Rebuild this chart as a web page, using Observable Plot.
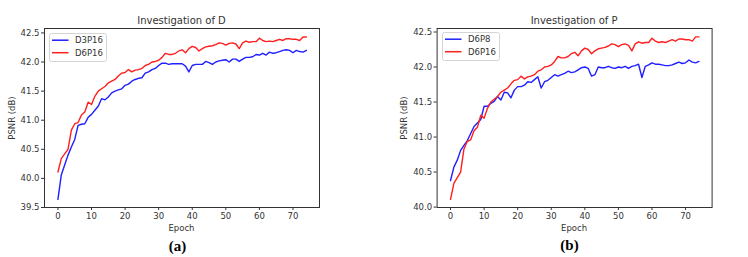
<!DOCTYPE html>
<html>
<head>
<meta charset="utf-8">
<script src="https://cdn.jsdelivr.net/npm/d3@7"></script>
<script src="https://cdn.jsdelivr.net/npm/@observablehq/plot@0.6"></script>
<style>
  html, body { margin: 0; padding: 0; background: #fff; }
  #root { position: relative; width: 748px; height: 257px; overflow: hidden; font-family: "DejaVu Sans", sans-serif; color: #333; }
  .abs { position: absolute; white-space: nowrap; }
  .title { font-size: 10px; transform: translate(-50%, -50%); }
  .xlabel { font-size: 8.5px; transform: translate(-50%, -50%); }
  .ylabel { font-size: 8.5px; transform: translate(-50%, -50%) rotate(-90deg); }
  .caption { font-family: "Liberation Serif", "Times New Roman", serif; font-weight: bold; font-size: 15px; color: #000; transform: translate(-50%, -50%); }
</style>
</head>
<body>
<div id="root"></div>
<script>
// ---- data ----
const epochs = [0,1,2,3,4,5,6,7,8,9,10,11,12,13,14,15,16,17,18,19,20,21,22,23,24,25,26,27,28,29,30,31,32,33,34,35,36,37,38,39,40,41,42,43,44,45,46,47,48,49,50,51,52,53,54,55,56,57,58,59,60,61,62,63,64,65,66,67,68,69,70,71,72,73,74];

const D3P16 = [39.64,40.06,40.23,40.40,40.54,40.67,40.91,40.93,40.94,41.05,41.10,41.17,41.24,41.37,41.35,41.40,41.47,41.50,41.52,41.54,41.60,41.62,41.67,41.70,41.72,41.73,41.81,41.83,41.87,41.89,41.94,41.98,41.98,41.96,41.97,41.97,41.97,41.97,41.93,41.83,41.94,41.96,41.96,41.96,42.01,41.99,41.96,42.00,42.02,42.03,42.04,42.00,42.05,42.05,42.01,42.05,42.08,42.08,42.09,42.13,42.12,42.15,42.12,42.17,42.15,42.16,42.18,42.20,42.21,42.20,42.16,42.20,42.18,42.17,42.20];

const D6P16 = [40.11,40.34,40.42,40.50,40.83,40.94,40.96,41.09,41.14,41.31,41.27,41.41,41.50,41.54,41.58,41.64,41.67,41.70,41.76,41.81,41.82,41.87,41.83,41.86,41.87,41.89,41.94,41.96,42.00,42.01,42.03,42.08,42.15,42.13,42.13,42.15,42.19,42.21,42.16,42.23,42.27,42.25,42.19,42.23,42.26,42.27,42.28,42.30,42.33,42.32,42.29,42.32,42.33,42.31,42.23,42.33,42.36,42.34,42.35,42.35,42.41,42.37,42.35,42.36,42.35,42.37,42.39,42.37,42.40,42.40,42.39,42.39,42.37,42.43,42.43];

const D6P8 = [40.38,40.57,40.67,40.81,40.88,40.95,41.05,41.15,41.20,41.25,41.44,41.44,41.48,41.51,41.58,41.53,41.64,41.63,41.56,41.67,41.72,41.72,41.74,41.79,41.78,41.82,41.86,41.70,41.79,41.81,41.85,41.89,41.87,41.89,41.91,41.94,41.92,41.93,41.96,41.99,42.00,41.98,41.87,41.89,42.00,41.99,41.99,42.01,41.99,41.98,42.00,41.99,42.01,41.98,42.01,42.02,42.04,41.85,42.01,42.03,42.06,42.04,42.04,42.03,42.02,42.02,42.03,42.05,42.07,42.05,42.06,42.10,42.07,42.06,42.08];

const xTicks = [0,10,20,30,40,50,60,70];
const yTicksA = [39.5,40.0,40.5,41.0,41.5,42.0,42.5];
const yTicksB = [40.0,40.5,41.0,41.5,42.0,42.5];
const titles = ["Investigation of D", "Investigation of P"];
const captions = ["(a)", "(b)"];
const seriesA = [{name: "D3P16", values: D3P16}, {name: "D6P16", values: D6P16}];
const seriesB = [{name: "D6P8", values: D6P8}, {name: "D6P16", values: D6P16}];
const colors = ["#1f1fff", "#ff1f1f"];

// ---- drawing ----
const root = document.getElementById("root");

function addDiv(cls, text, left, top) {
  const d = document.createElement("div");
  d.className = "abs " + cls;
  d.textContent = text;
  d.style.left = left + "px";
  d.style.top = top + "px";
  root.appendChild(d);
  return d;
}

function panel(series, yDomain, yTicks, mL, mR) {
  const data = series.flatMap(s => s.values.map((v, i) => ({epoch: epochs[i], psnr: v, name: s.name})));
  return Plot.plot({
    width: 374, height: 240,
    marginTop: 28, marginBottom: 33, marginLeft: mL, marginRight: mR,
    style: {fontFamily: "DejaVu Sans, sans-serif", fontSize: "8.5px", color: "#333", background: "transparent", overflow: "visible"},
    x: {domain: [-4, 77.9]},
    y: {domain: yDomain},
    color: {domain: series.map(s => s.name), range: colors},
    marks: [
      Plot.line(data, {x: "epoch", y: "psnr", z: "name", stroke: "name", strokeWidth: 1.4}),
      Plot.frame({stroke: "#333", strokeWidth: 1}),
      Plot.axisX(xTicks, {tickSize: 3, tickPadding: 2, label: null, tickFormat: d3.format("d"), stroke: "#333"}),
      Plot.axisY(yTicks, {tickSize: 3, tickPadding: 2, label: null, tickFormat: d3.format(".1f"), stroke: "#333"})
    ]
  });
}

function legend(series, x, y) {
  const ns = "http://www.w3.org/2000/svg";
  const svg = document.createElementNS(ns, "svg");
  svg.setAttribute("width", 58);
  svg.setAttribute("height", 29);
  svg.style.position = "absolute";
  svg.style.left = x + "px";
  svg.style.top = y + "px";
  const rect = document.createElementNS(ns, "rect");
  rect.setAttribute("x", 0.5); rect.setAttribute("y", 0.5);
  rect.setAttribute("width", 57); rect.setAttribute("height", 28);
  rect.setAttribute("rx", 2);
  rect.setAttribute("fill", "rgba(255,255,255,0.85)");
  rect.setAttribute("stroke", "#d4d4d4");
  svg.appendChild(rect);
  series.forEach((s, i) => {
    const ly = 7.2 + i * 12.5;
    const ln = document.createElementNS(ns, "line");
    ln.setAttribute("x1", 3); ln.setAttribute("x2", 19.5);
    ln.setAttribute("y1", ly); ln.setAttribute("y2", ly);
    ln.setAttribute("stroke", colors[i]);
    ln.setAttribute("stroke-width", 1.5);
    svg.appendChild(ln);
    const tx = document.createElementNS(ns, "text");
    tx.setAttribute("x", 26);
    tx.setAttribute("y", ly);
    tx.setAttribute("dy", "0.35em");
    tx.setAttribute("font-size", "8.5px");
    tx.setAttribute("font-family", "DejaVu Sans, sans-serif");
    tx.setAttribute("fill", "#333");
    tx.textContent = s.name;
    svg.appendChild(tx);
  });
  root.appendChild(svg);
}

const configs = [
  {left: 0, series: seriesA, yDomain: [39.5, 42.576], yTicks: yTicksA, mL: 44, mR: 55, ylabelX: 12, capX: 177.5, capY: 245.5, legX: 49, legY: 32.5},
  {left: 374, series: seriesB, yDomain: [39.994, 42.55], yTicks: yTicksB, mL: 62.6, mR: 36.4, ylabelX: 404, capX: 569.5, capY: 245, legX: 441.5, legY: 32}
];

configs.forEach((c, k) => {
  const wrap = document.createElement("div");
  wrap.className = "abs";
  wrap.style.left = c.left + "px";
  wrap.style.top = "0px";
  wrap.appendChild(panel(c.series, c.yDomain, c.yTicks, c.mL, c.mR));
  root.appendChild(wrap);

  const fx0 = c.left + c.mL, fx1 = c.left + 374 - c.mR;
  const cx = (fx0 + fx1) / 2;
  addDiv("title", titles[k], cx, 20);
  addDiv("xlabel", "Epoch", cx, 227.5);
  addDiv("ylabel", "PSNR (dB)", c.ylabelX, 117.5);
  addDiv("caption", captions[k], c.capX, c.capY);
  legend(c.series, c.legX, c.legY);
});
</script>
</body>
</html>
